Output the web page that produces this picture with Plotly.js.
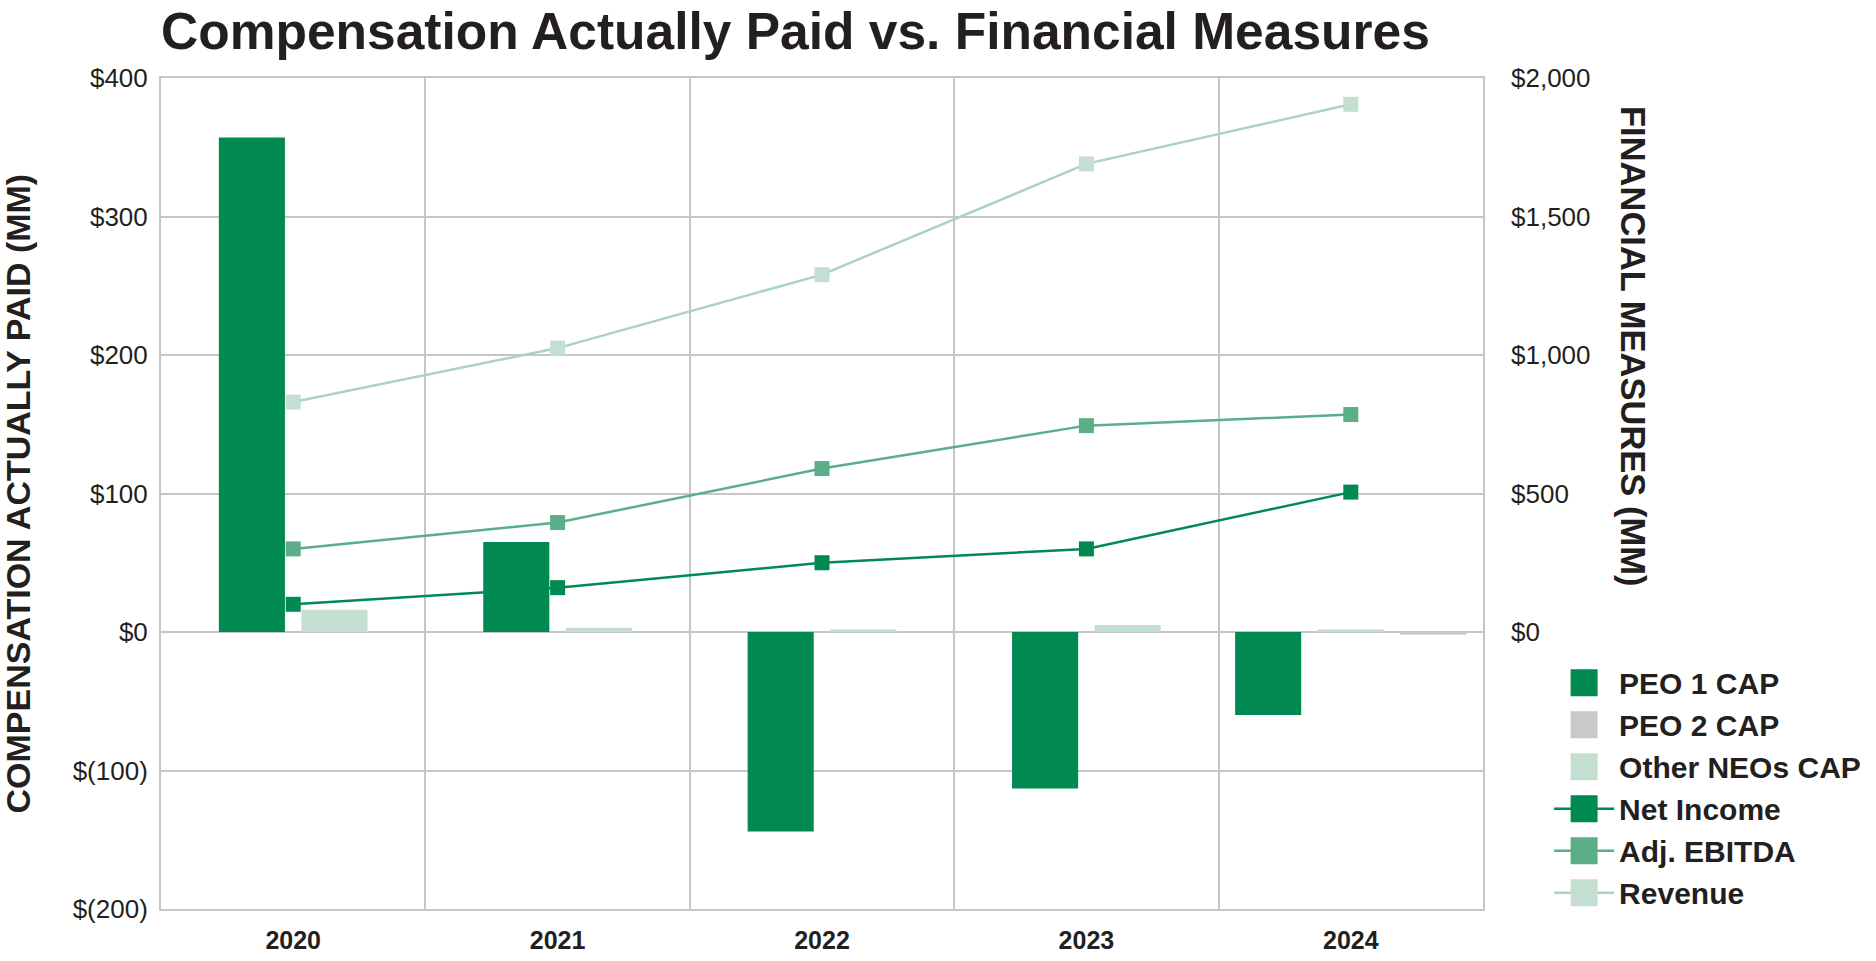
<!DOCTYPE html>
<html>
<head>
<meta charset="utf-8">
<script src="https://cdn.plot.ly/plotly-3.0.1.min.js"></script>
<style>
  html, body { margin: 0; padding: 0; background: #ffffff; }
  #chart { width: 1876px; height: 961px; }
</style>
</head>
<body>
<div id="chart"></div>
<script>
// ---- data ----
var years = [2020, 2021, 2022, 2023, 2024];
var yearLabels = ['2020', '2021', '2022', '2023', '2024'];

var peo1Cap = [357, 65, -144, -113, -60];
var peo2Cap = [null, null, null, null, -2];
var otherNeosCap = [16, 3, 2, 5, 2];

var netIncome = [100, 160, 250, 300, 505];
var adjEbitda = [300, 395, 590, 745, 785];
var revenue = [830, 1025, 1290, 1690, 1905];

var leftTickVals = [-200, -100, 0, 100, 200, 300, 400];
var leftTickText = ['$(200)', '$(100)', '$0', '$100', '$200', '$300', '$400'];
var rightTickVals = [0, 500, 1000, 1500, 2000];
var rightTickText = ['$0', '$500', '$1,000', '$1,500', '$2,000'];

// ---- styling ----
var C_PEO1 = '#008a52';
var C_PEO2 = '#c8c9cb';
var C_NEO = '#c4dfd2';
var C_NI = '#008a52';
var C_EBITDA = '#5aae88';
var C_REV_LINE = '#aad3c0';
var C_REV_MK = '#c4dfd2';
var GRID = '#c6c6c6';
var FONT = '"Liberation Sans", Arial, Helvetica, sans-serif';

// bar slot layout: series present in a year are centred in that year's slot
var BAR_W = 0.25, BAR_GAP = 0.0625;
var barOrder = [peo1Cap, otherNeosCap, peo2Cap];
var offsets = barOrder.map(function () { return []; });
years.forEach(function (y, i) {
  var present = [];
  barOrder.forEach(function (s, k) { if (s[i] !== null && s[i] !== undefined) present.push(k); });
  var n = present.length;
  var total = n * BAR_W + (n - 1) * BAR_GAP;
  var start = -total / 2;
  barOrder.forEach(function (s, k) { offsets[k][i] = 0; });
  present.forEach(function (k, j) { offsets[k][i] = start + j * (BAR_W + BAR_GAP); });
});

var traces = [
  { type: 'bar', name: 'PEO 1 CAP', x: years, y: peo1Cap, width: BAR_W, offset: offsets[0],
    marker: { color: C_PEO1 }, yaxis: 'y' },
  { type: 'bar', name: 'PEO 2 CAP', x: years, y: peo2Cap, width: BAR_W, offset: offsets[2],
    marker: { color: C_PEO2 }, yaxis: 'y' },
  { type: 'bar', name: 'Other NEOs CAP', x: years, y: otherNeosCap, width: BAR_W, offset: offsets[1],
    marker: { color: C_NEO }, yaxis: 'y' },
  { type: 'scatter', mode: 'lines+markers', name: 'Net Income', x: years, y: netIncome, yaxis: 'y2',
    line: { color: C_NI, width: 2.5 }, marker: { symbol: 'square', size: 15, color: C_NI } },
  { type: 'scatter', mode: 'lines+markers', name: 'Adj. EBITDA', x: years, y: adjEbitda, yaxis: 'y2',
    line: { color: C_EBITDA, width: 2.5 }, marker: { symbol: 'square', size: 15, color: C_EBITDA } },
  { type: 'scatter', mode: 'lines+markers', name: 'Revenue', x: years, y: revenue, yaxis: 'y2',
    line: { color: C_REV_LINE, width: 2.5 }, marker: { symbol: 'square', size: 15, color: C_REV_MK } }
];

var plotL = 161, plotR = 1483, plotT = 78, plotB = 909;

var layout = {
  width: 1876, height: 961,
  margin: { l: plotL, r: 1876 - plotR, t: plotT, b: 961 - plotB, pad: 0, autoexpand: false },
  paper_bgcolor: '#ffffff', plot_bgcolor: '#ffffff',
  font: { family: FONT, color: '#231f20' },
  barmode: 'overlay',
  showlegend: true,
  title: {
    text: '<b>Compensation Actually Paid vs. Financial Measures</b>',
    font: { family: FONT, size: 51.5, color: '#231f20' },
    x: 0, xref: 'paper', xanchor: 'left',
    y: 0.968, yref: 'container', yanchor: 'middle'
  },
  xaxis: {
    type: 'linear', range: [2019.5, 2024.5], fixedrange: true,
    tickmode: 'array', tickvals: years, ticktext: yearLabels.map(function (t) { return '<b>' + t + '</b>'; }),
    tickfont: { family: FONT, size: 25, color: '#231f20' },
    ticks: '', showgrid: false, zeroline: false,
    showline: true, linecolor: GRID, linewidth: 2, mirror: true,
    ticklabelstandoff: 8,
    minor: { tickvals: [2020.5, 2021.5, 2022.5, 2023.5], showgrid: true, gridcolor: GRID, gridwidth: 2, ticks: '' }
  },
  yaxis: {
    range: [-200, 400], fixedrange: true,
    tickmode: 'array', tickvals: leftTickVals, ticktext: leftTickText,
    tickfont: { family: FONT, size: 26, color: '#231f20' },
    ticks: '', showgrid: true, gridcolor: GRID, gridwidth: 2,
    zeroline: true, zerolinecolor: GRID, zerolinewidth: 2,
    showline: true, linecolor: GRID, linewidth: 2, mirror: true,
    ticklabelstandoff: 6
  },
  yaxis2: {
    overlaying: 'y', side: 'right', range: [-1000, 2000], fixedrange: true,
    tickmode: 'array', tickvals: rightTickVals, ticktext: rightTickText,
    tickfont: { family: FONT, size: 26, color: '#231f20' },
    ticks: '', showgrid: false, zeroline: false, showline: false,
    ticklabelstandoff: 27
  },
  legend: {
    x: 1.05, xref: 'paper', xanchor: 'left',
    y: 0.3036, yref: 'paper', yanchor: 'top',
    font: { family: FONT, size: 30, color: '#231f20', weight: 'bold' },
    bgcolor: 'rgba(0,0,0,0)', borderwidth: 0,
    traceorder: 'normal', itemsizing: 'trace', itemwidth: 60,
    tracegroupgap: 0
  },
  annotations: [
    { text: '<b>COMPENSATION ACTUALLY PAID (MM)</b>', textangle: -90,
      xref: 'paper', yref: 'paper', x: (17 - plotL) / (plotR - plotL), y: 0.5,
      xanchor: 'center', yanchor: 'middle', showarrow: false,
      font: { family: FONT, size: 34, color: '#231f20' } },
    { text: '<b>FINANCIAL MEASURES (MM)</b>', textangle: 90,
      xref: 'paper', yref: 'paper', x: (1633 - plotL) / (plotR - plotL), y: (plotB - 346) / (plotB - plotT),
      xanchor: 'center', yanchor: 'middle', showarrow: false,
      font: { family: FONT, size: 34.5, color: '#231f20' } }
  ]
};

var gd = document.getElementById('chart');
Plotly.newPlot(gd, traces, layout, { displayModeBar: false, staticPlot: true }).then(function () {
  // enlarge legend swatches to the reference's large square keys (about 27 px)
  var TARGET = 27;
  gd.querySelectorAll('.legend .traces path').forEach(function (p) {
    if (p.classList.contains('js-line')) return;
    var b;
    try { b = p.getBBox(); } catch (e) { return; }
    if (!b || b.width < 4 || b.height < 4) return;
    var s = TARGET / Math.max(b.width, b.height);
    var cx = b.x + b.width / 2, cy = b.y + b.height / 2;
    var t = p.getAttribute('transform') || '';
    p.setAttribute('transform', t + ' translate(' + cx + ',' + cy + ') scale(' + s + ') translate(' + (-cx) + ',' + (-cy) + ')');
  });
});
</script>
</body>
</html>
